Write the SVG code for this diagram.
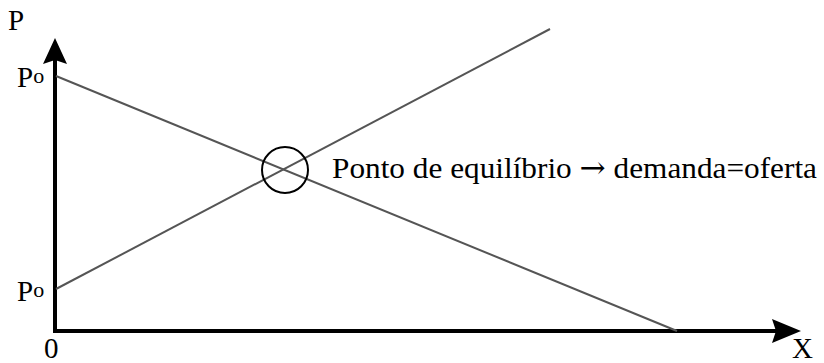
<svg xmlns="http://www.w3.org/2000/svg" width="824" height="363" viewBox="0 0 824 363">
  <style>
    .curve { stroke: #555; stroke-width: 2; fill: none; }
    .axis { stroke: #000; stroke-width: 4; fill: none; }
    .arr { font-family: "DejaVu Serif", "DejaVu Sans", serif; }
  </style>
  <rect width="824" height="363" fill="#fff"/>
  <g id="axes">
    <line class="axis" x1="55" y1="60" x2="55" y2="333"/>
    <line class="axis" x1="53" y1="331" x2="780" y2="331"/>
    <polygon points="55,38 67,64 55,60 43,64" fill="#000"/>
    <polygon points="801,331 772,319 776,331 772,343" fill="#000"/>
  </g>
  <g id="connectors">
    <line id="demand" class="curve" x1="56" y1="76" x2="677" y2="331"/>
    <line id="supply" class="curve" x1="56" y1="289" x2="550" y2="29"/>
  </g>
  <g font-family="'Liberation Serif', 'Times New Roman', 'DejaVu Serif', serif" font-size="29" fill="#000">
    <g id="equilibrium">
      <circle cx="285" cy="170" r="23" fill="none" stroke="#000" stroke-width="2"/>
      <text x="332" y="178" font-size="30" textLength="485" lengthAdjust="spacingAndGlyphs">Ponto de equilíbrio <tspan class="arr" font-size="30">→</tspan> demanda=oferta</text>
    </g>
    <g id="labels">
      <text x="8" y="30">P</text>
      <text x="792" y="358">X</text>
      <text x="44" y="358">0</text>
      <text x="17" y="87">P<tspan font-size="22" dy="-4">o</tspan></text>
      <text x="17" y="301">P<tspan font-size="22" dy="-4">o</tspan></text>
    </g>
  </g>
</svg>
